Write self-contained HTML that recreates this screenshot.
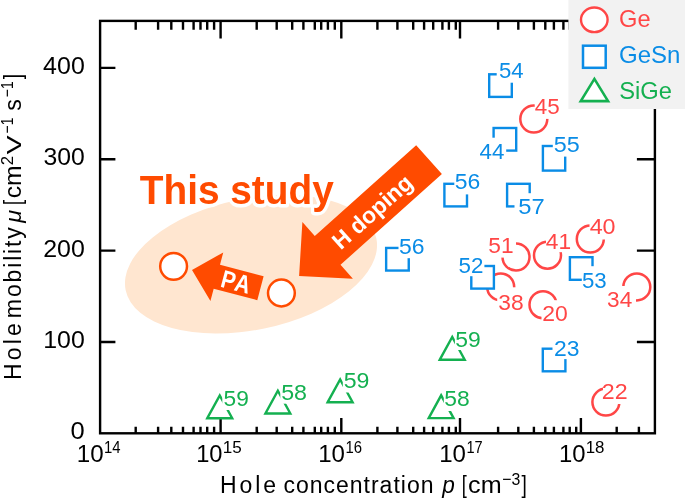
<!DOCTYPE html>
<html><head><meta charset="utf-8"><title>Hole mobility vs hole concentration</title>
<style>html,body{margin:0;padding:0;background:#fff}svg{display:block}</style></head>
<body>
<svg width="685" height="498" viewBox="0 0 685 498" font-family="Liberation Sans, sans-serif" style="font-kerning:none">
<rect width="685" height="498" fill="#fff"/>
<ellipse cx="251" cy="264.25" rx="128" ry="65.6" fill="#ffe6d0" transform="rotate(-11.7 251 264.25)"/>
<g stroke="#000" stroke-width="2.4" fill="none">
<rect x="100.1" y="20.9" width="554.80" height="412.40"/>
<path d="M220.60 433.3V418.10 M220.60 20.9V38.50 M341.30 433.3V418.10 M341.30 20.9V38.50 M460.00 433.3V418.10 M460.00 20.9V38.50 M580.90 433.3V418.10 M580.90 20.9V38.50 M135.70 433.3V426.70 M135.70 20.9V29.80 M158.10 433.3V426.70 M158.10 20.9V29.80 M171.30 433.3V426.70 M171.30 20.9V29.80 M183.00 433.3V426.70 M183.00 20.9V29.80 M193.60 433.3V426.70 M193.60 20.9V29.80 M200.50 433.3V426.70 M200.50 20.9V29.80 M207.20 433.3V426.70 M207.20 20.9V29.80 M214.10 433.3V426.70 M214.10 20.9V29.80 M256.70 433.3V426.70 M256.70 20.9V29.80 M276.70 433.3V426.70 M276.70 20.9V29.80 M292.20 433.3V426.70 M292.20 20.9V29.80 M303.40 433.3V426.70 M303.40 20.9V29.80 M314.80 433.3V426.70 M314.80 20.9V29.80 M321.20 433.3V426.70 M321.20 20.9V29.80 M327.90 433.3V426.70 M327.90 20.9V29.80 M334.80 433.3V426.70 M334.80 20.9V29.80 M377.40 433.3V426.70 M377.40 20.9V29.80 M397.40 433.3V426.70 M397.40 20.9V29.80 M413.20 433.3V426.70 M413.20 20.9V29.80 M424.10 433.3V426.70 M424.10 20.9V29.80 M433.20 433.3V426.70 M433.20 20.9V29.80 M442.40 433.3V426.70 M442.40 20.9V29.80 M448.90 433.3V426.70 M448.90 20.9V29.80 M455.80 433.3V426.70 M455.80 20.9V29.80 M498.10 433.3V426.70 M498.10 20.9V29.80 M518.30 433.3V426.70 M518.30 20.9V29.80 M533.90 433.3V426.70 M533.90 20.9V29.80 M545.30 433.3V426.70 M545.30 20.9V29.80 M553.90 433.3V426.70 M553.90 20.9V29.80 M563.40 433.3V426.70 M563.40 20.9V29.80 M569.70 433.3V426.70 M569.70 20.9V29.80 M576.20 433.3V426.70 M576.20 20.9V29.80 M616.70 433.3V426.70 M616.70 20.9V29.80 M638.90 433.3V426.70 M638.90 20.9V29.80 M100.1 341.95H115.40 M654.9 341.95H636.90 M100.1 250.60H115.40 M654.9 250.60H636.90 M100.1 159.25H115.40 M654.9 159.25H636.90 M100.1 67.90H115.40 M654.9 67.90H636.90"/>
</g>
<text x="43.13" y="74.0" font-size="24" fill="#000" textLength="41.65" lengthAdjust="spacingAndGlyphs">400</text>
<text x="43.46" y="165.4" font-size="24" fill="#000" textLength="41.31" lengthAdjust="spacingAndGlyphs">300</text>
<text x="43.15" y="256.7" font-size="24" fill="#000" textLength="41.63" lengthAdjust="spacingAndGlyphs">200</text>
<text x="43.20" y="348.1" font-size="24" fill="#000" textLength="41.57" lengthAdjust="spacingAndGlyphs">100</text>
<text x="70.60" y="439.0" font-size="24" fill="#000" textLength="14.19" lengthAdjust="spacingAndGlyphs">0</text>
<text x="76.86" y="462.3" font-size="24" fill="#000" textLength="26.89" lengthAdjust="spacingAndGlyphs">10</text>
<text x="104.07" y="453.0" font-size="17" fill="#000" textLength="16.57" lengthAdjust="spacingAndGlyphs">14</text>
<text x="196.20" y="462.3" font-size="24" fill="#000" textLength="26.33" lengthAdjust="spacingAndGlyphs">10</text>
<text x="222.70" y="453.0" font-size="17" fill="#000" textLength="19.02" lengthAdjust="spacingAndGlyphs">15</text>
<text x="318.17" y="462.3" font-size="24" fill="#000" textLength="26.77" lengthAdjust="spacingAndGlyphs">10</text>
<text x="345.46" y="453.0" font-size="17" fill="#000" textLength="16.59" lengthAdjust="spacingAndGlyphs">16</text>
<text x="439.17" y="462.3" font-size="24" fill="#000" textLength="26.77" lengthAdjust="spacingAndGlyphs">10</text>
<text x="466.49" y="453.0" font-size="17" fill="#000" textLength="16.25" lengthAdjust="spacingAndGlyphs">17</text>
<text x="558.98" y="462.3" font-size="24" fill="#000" textLength="26.55" lengthAdjust="spacingAndGlyphs">10</text>
<text x="585.71" y="453.0" font-size="17" fill="#000" textLength="18.82" lengthAdjust="spacingAndGlyphs">18</text>
<text x="220.11" y="493.0" font-size="23" fill="#000" letter-spacing="2.869">Hole</text>
<text x="283.42" y="493.0" font-size="23" fill="#000" letter-spacing="0.998">concentration</text>
<text x="442.16" y="493.0" font-size="23" fill="#000" font-style="italic" textLength="12.57" lengthAdjust="spacingAndGlyphs">p</text>
<text x="461.71" y="493.0" font-size="23" fill="#000" textLength="5.03" lengthAdjust="spacingAndGlyphs">[</text>
<text x="468.13" y="493.0" font-size="23" fill="#000" textLength="33.53" lengthAdjust="spacingAndGlyphs">cm</text>
<text x="502.22" y="484.8" font-size="17" fill="#000" textLength="18.08" lengthAdjust="spacingAndGlyphs">−3</text>
<text x="521.45" y="493.0" font-size="23" fill="#000" textLength="5.31" lengthAdjust="spacingAndGlyphs">]</text>
<g transform="translate(21.1 378.2) rotate(-90)">
<text x="-1.89" y="0" font-size="23" fill="#000" letter-spacing="3.202">Hole</text>
<text x="60.07" y="0" font-size="23" fill="#000" letter-spacing="1.859">mobility</text>
<text x="155.49" y="0" font-size="23" fill="#000" font-style="italic" textLength="12.89" lengthAdjust="spacingAndGlyphs">μ</text>
<text x="173.11" y="0" font-size="23" fill="#000" textLength="5.03" lengthAdjust="spacingAndGlyphs">[</text>
<text x="179.95" y="0" font-size="23" fill="#000" textLength="32.87" lengthAdjust="spacingAndGlyphs">cm</text>
<text x="212.95" y="-8.2" font-size="17" fill="#000" textLength="9.40" lengthAdjust="spacingAndGlyphs">2</text>
<text x="223.77" y="0" font-size="21" fill="#000" textLength="19.25" lengthAdjust="spacingAndGlyphs">V</text>
<text x="244.81" y="-8.2" font-size="17" fill="#000" textLength="15.87" lengthAdjust="spacingAndGlyphs">−1</text>
<text x="267.36" y="0" font-size="23" fill="#000" textLength="11.58" lengthAdjust="spacingAndGlyphs">s</text>
<text x="281.01" y="-8.2" font-size="17" fill="#000" textLength="15.87" lengthAdjust="spacingAndGlyphs">−1</text>
<text x="298.85" y="0" font-size="23" fill="#000" textLength="5.31" lengthAdjust="spacingAndGlyphs">]</text>
</g>
<circle cx="500.7" cy="286.9" r="13.5" fill="#fff" stroke="#ff4646" stroke-width="2.5"/>
<rect x="497.2" y="287.3" width="28.5" height="26.1" fill="#fff"/><text x="498.33" y="309.7" font-size="22" fill="#ff4646" textLength="25.36" lengthAdjust="spacingAndGlyphs">38</text>
<rect x="489.20" y="74.30" width="22.6" height="22.6" fill="#fff" stroke="#0a8ce6" stroke-width="2.4"/>
<rect x="496.7" y="59.0" width="29.2" height="23.7" fill="#fff"/><text x="498.91" y="78.0" font-size="22" fill="#0a8ce6" textLength="24.64" lengthAdjust="spacingAndGlyphs">54</text>
<rect x="493.60" y="128.00" width="22.6" height="22.6" fill="#fff" stroke="#0a8ce6" stroke-width="2.4"/>
<rect x="477.1" y="137.7" width="29.1" height="24.5" fill="#fff"/><text x="479.59" y="158.5" font-size="22" fill="#0a8ce6" textLength="24.87" lengthAdjust="spacingAndGlyphs">44</text>
<rect x="542.90" y="146.00" width="22.3" height="24.6" fill="#fff" stroke="#0a8ce6" stroke-width="2.4"/>
<rect x="552.8" y="133.1" width="29.1" height="23.5" fill="#fff"/><text x="553.86" y="152.1" font-size="22" fill="#0a8ce6" textLength="26.02" lengthAdjust="spacingAndGlyphs">55</text>
<rect x="444.40" y="183.80" width="22.6" height="22.6" fill="#fff" stroke="#0a8ce6" stroke-width="2.4"/>
<rect x="454.3" y="169.7" width="27.9" height="24.7" fill="#fff"/><text x="454.68" y="188.8" font-size="22" fill="#0a8ce6" textLength="25.53" lengthAdjust="spacingAndGlyphs">56</text>
<rect x="507.10" y="183.80" width="22.6" height="22.6" fill="#fff" stroke="#0a8ce6" stroke-width="2.4"/>
<rect x="514.5" y="193.2" width="32.0" height="24.8" fill="#fff"/><text x="518.25" y="214.3" font-size="22" fill="#0a8ce6" textLength="26.45" lengthAdjust="spacingAndGlyphs">57</text>
<rect x="386.15" y="247.95" width="22.6" height="22.6" fill="#fff" stroke="#0a8ce6" stroke-width="2.4"/>
<rect x="398.5" y="235.2" width="28.0" height="23.0" fill="#fff"/><text x="398.98" y="254.3" font-size="22" fill="#0a8ce6" textLength="25.53" lengthAdjust="spacingAndGlyphs">56</text>
<rect x="471.30" y="266.00" width="22.6" height="22.6" fill="#fff" stroke="#0a8ce6" stroke-width="2.4"/>
<rect x="456.5" y="253.6" width="27.9" height="22.6" fill="#fff"/><text x="458.60" y="272.8" font-size="22" fill="#0a8ce6" textLength="24.92" lengthAdjust="spacingAndGlyphs">52</text>
<rect x="569.90" y="257.20" width="22.6" height="22.6" fill="#fff" stroke="#0a8ce6" stroke-width="2.4"/>
<rect x="581.8" y="266.2" width="26.9" height="25.4" fill="#fff"/><text x="581.91" y="287.9" font-size="22" fill="#0a8ce6" textLength="24.77" lengthAdjust="spacingAndGlyphs">53</text>
<rect x="542.80" y="348.70" width="22.6" height="22.6" fill="#fff" stroke="#0a8ce6" stroke-width="2.4"/>
<rect x="552.5" y="336.6" width="28.9" height="22.5" fill="#fff"/><text x="553.95" y="356.1" font-size="22" fill="#0a8ce6" textLength="25.46" lengthAdjust="spacingAndGlyphs">23</text>
<circle cx="533.8" cy="119.0" r="13.5" fill="#fff" stroke="#ff4646" stroke-width="2.5"/>
<rect x="534.7" y="95.2" width="27.1" height="23.7" fill="#fff"/><text x="534.79" y="114.1" font-size="22" fill="#ff4646" textLength="24.96" lengthAdjust="spacingAndGlyphs">45</text>
<circle cx="516.0" cy="257.0" r="13.5" fill="#fff" stroke="#ff4646" stroke-width="2.5"/>
<rect x="486.2" y="233.2" width="29.8" height="24.4" fill="#fff"/><text x="488.29" y="252.6" font-size="22" fill="#ff4646" textLength="25.32" lengthAdjust="spacingAndGlyphs">51</text>
<circle cx="547.5" cy="255.2" r="13.5" fill="#fff" stroke="#ff4646" stroke-width="2.5"/>
<rect x="546.0" y="229.5" width="27.0" height="22.7" fill="#fff"/><text x="545.78" y="249.1" font-size="22" fill="#ff4646" textLength="25.33" lengthAdjust="spacingAndGlyphs">41</text>
<circle cx="590.3" cy="239.0" r="13.5" fill="#fff" stroke="#ff4646" stroke-width="2.5"/>
<rect x="589.5" y="214.7" width="28.2" height="24.8" fill="#fff"/><text x="589.66" y="234.4" font-size="22" fill="#ff4646" textLength="25.95" lengthAdjust="spacingAndGlyphs">40</text>
<circle cx="543.0" cy="304.7" r="13.5" fill="#fff" stroke="#ff4646" stroke-width="2.5"/>
<rect x="541.5" y="300.2" width="28.4" height="24.8" fill="#fff"/><text x="542.24" y="321.3" font-size="22" fill="#ff4646" textLength="25.55" lengthAdjust="spacingAndGlyphs">20</text>
<circle cx="636.8" cy="286.9" r="13.5" fill="#fff" stroke="#ff4646" stroke-width="2.5"/>
<rect x="605.0" y="286.0" width="31.0" height="24.6" fill="#fff"/><text x="607.14" y="306.9" font-size="22" fill="#ff4646" textLength="25.12" lengthAdjust="spacingAndGlyphs">34</text>
<circle cx="605.9" cy="402.1" r="13.5" fill="#fff" stroke="#ff4646" stroke-width="2.5"/>
<rect x="603.0" y="379.2" width="26.4" height="24.8" fill="#fff"/><text x="601.73" y="399.0" font-size="22" fill="#ff4646" textLength="25.84" lengthAdjust="spacingAndGlyphs">22</text>
<path d="M207.30 418.2L219.75 395.40L232.20 418.2Z" fill="#fff" stroke="#14b050" stroke-width="2.4"/>
<rect x="222.3" y="386.6" width="28.5" height="23.4" fill="#fff"/><text x="223.59" y="406.2" font-size="22" fill="#14b050" textLength="25.29" lengthAdjust="spacingAndGlyphs">59</text>
<path d="M265.40 413.5L277.85 390.70L290.30 413.5Z" fill="#fff" stroke="#14b050" stroke-width="2.4"/>
<rect x="280.3" y="380.0" width="28.7" height="23.7" fill="#fff"/><text x="281.17" y="399.9" font-size="22" fill="#14b050" textLength="25.84" lengthAdjust="spacingAndGlyphs">58</text>
<path d="M327.70 402.2L340.15 379.40L352.60 402.2Z" fill="#fff" stroke="#14b050" stroke-width="2.4"/>
<rect x="342.8" y="368.6" width="28.5" height="23.9" fill="#fff"/><text x="343.67" y="388.2" font-size="22" fill="#14b050" textLength="25.72" lengthAdjust="spacingAndGlyphs">59</text>
<path d="M439.80 359.7L452.25 336.90L464.70 359.7Z" fill="#fff" stroke="#14b050" stroke-width="2.4"/>
<rect x="454.9" y="327.1" width="27.8" height="22.9" fill="#fff"/><text x="455.28" y="346.8" font-size="22" fill="#14b050" textLength="25.50" lengthAdjust="spacingAndGlyphs">59</text>
<path d="M428.70 418.1L441.15 395.30L453.60 418.1Z" fill="#fff" stroke="#14b050" stroke-width="2.4"/>
<rect x="443.8" y="385.7" width="27.9" height="25.3" fill="#fff"/><text x="444.29" y="405.5" font-size="22" fill="#14b050" textLength="25.41" lengthAdjust="spacingAndGlyphs">58</text>
<rect x="568.4" y="0" width="116.6" height="109" fill="#f2f2f2"/>
<ellipse cx="594.3" cy="19.8" rx="13.3" ry="12.3" fill="#fff" stroke="#ff4646" stroke-width="2.4"/>
<rect x="583.0" y="45.7" width="22.7" height="22.1" fill="#fff" stroke="#0a8ce6" stroke-width="2.5"/>
<path d="M580.75 101.15L594.4 78.9L608.05 101.15Z" fill="#fff" stroke="#14b050" stroke-width="2.6"/>
<text x="619.11" y="27.0" font-size="24.6" fill="#ff4646" textLength="31.54" lengthAdjust="spacingAndGlyphs">Ge</text>
<text x="619.09" y="63.0" font-size="24.6" fill="#0a8ce6" textLength="61.37" lengthAdjust="spacingAndGlyphs">GeSn</text>
<text x="619.22" y="99.0" font-size="24.6" fill="#14b050" textLength="52.73" lengthAdjust="spacingAndGlyphs">SiGe</text>
<text x="139.76" y="204.4" font-size="41" font-weight="bold" fill="#ff4b00" stroke="#fff" stroke-width="7" stroke-linejoin="round" paint-order="stroke" textLength="194.04" lengthAdjust="spacingAndGlyphs">This study</text>
<g transform="translate(299.1 275.9) rotate(-41.8)"><path d="M0.0 0.0L38.3 -37.9L38.3 -19.3L174.3 -19.3L174.3 19.3L38.3 19.3L38.3 37.9Z" fill="#ff4b00"/><text x="47.98" y="8.9" font-size="23" fill="#fff" font-weight="bold" textLength="98.54" lengthAdjust="spacingAndGlyphs">H doping</text></g>
<g transform="translate(192.0 270.1) rotate(14.8)"><path d="M0.0 0.0L25.7 -25.1L25.7 -12.4L70.8 -12.4L70.8 12.4L25.7 12.4L25.7 25.1Z" fill="#ff4b00"/><text x="30.88" y="8.8" font-size="25" fill="#fff" font-weight="bold" textLength="29.48" lengthAdjust="spacingAndGlyphs">PA</text></g>
<circle cx="173.6" cy="266.3" r="13.4" fill="#fff" stroke="#ff4b00" stroke-width="2.5"/>
<circle cx="281.4" cy="293.0" r="13.4" fill="#fff" stroke="#ff4b00" stroke-width="2.5"/>
</svg>
</body></html>
